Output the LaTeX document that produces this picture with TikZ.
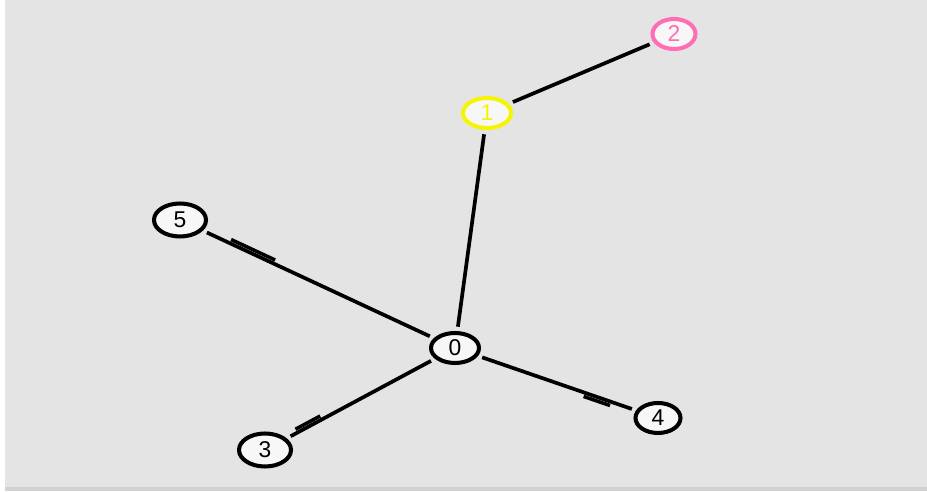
\documentclass[tikz,border=0pt]{standalone}
\usepackage{fontspec}
\setmainfont{Liberation Sans}
\usepackage{tikz}
\usetikzlibrary{calc, shapes.geometric}
\usepackage{xcolor}
\definecolor{panelgray}{HTML}{E4E4E4}
\definecolor{edgegray}{HTML}{D2D2D2}
\definecolor{nodeyellow}{HTML}{F5F500}
\definecolor{nodepink}{HTML}{FF6EB4}

\begin{document}
\begin{tikzpicture}[x=0.02cm, y=-0.02cm]

        % 1. Fix the drawing area (pixel-like units, y downwards)
        \useasboundingbox (0,0) rectangle (927,492);
        \fill[panelgray] (5,0) rectangle (927,488);
        \draw[edgegray, line width=2pt] (5,489) -- (927,489);

        % 2. Styles for the vertices, the edges and the small edge marks
        \tikzset{vertex/.style={ellipse, draw=black, line width=2.3pt, fill=white!70!panelgray,
                                minimum width=0.96cm, minimum height=0.6cm, inner sep=0pt,
                                font=\fontsize{13}{13}\selectfont},
                 link/.style={line width=2.1pt, black, shorten <=2.5pt, shorten >=2.5pt},
                 tick/.style={line width=2pt, black}}

        % 3. Place the vertices
        \node[vertex] (v0) at (455,348) {0};
        \node[vertex, draw=nodeyellow, text=nodeyellow] (v1) at (487,113) {1};
        \node[vertex, draw=nodepink, text=nodepink, minimum width=0.86cm] (v2) at (674,34) {2};
        \node[vertex, minimum width=1.04cm, minimum height=0.66cm] (v3) at (265,450) {3};
        \node[vertex, minimum width=0.9cm] (v4) at (658,418) {4};
        \node[vertex, minimum width=1.04cm, minimum height=0.66cm] (v5) at (180,220) {5};

        % 4. Draw the edges
        \draw[link] (v0) -- (v1);
        \draw[link] (v1) -- (v2);
        \draw[link] (v0) -- (v5);
        \draw[link] (v0) -- (v3);
        \draw[link] (v0) -- (v4);

        % 5. Short parallel marks near the outer ends
        \draw[tick] ($(v0)!0.66!(v5)!2.2pt!-90:(v5)$) -- ($(v0)!0.82!(v5)!2.2pt!-90:(v5)$);
        \draw[tick] ($(v0)!0.70!(v3)!2.2pt!-90:(v3)$) -- ($(v0)!0.83!(v3)!2.2pt!-90:(v3)$);
        \draw[tick] ($(v0)!0.64!(v4)!2.2pt!-90:(v4)$) -- ($(v0)!0.77!(v4)!2.2pt!-90:(v4)$);

    \end{tikzpicture}
\end{document}
